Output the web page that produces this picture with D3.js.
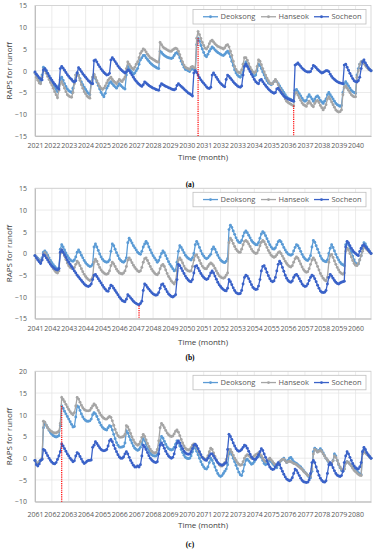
<!DOCTYPE html>
<html>
<head>
<meta charset="utf-8">
<script src="https://cdn.jsdelivr.net/npm/d3@7"></script>
<style>
  body { margin: 0; background: #fff; }
  svg { display: block; }
</style>
</head>
<body>
<svg id="chart" width="376" height="550"></svg>
<script>
// tick labels (one per January)
var yearsA = ["2021","2022","2023","2024","2025","2026","2027","2028","2029","2030",
              "2031","2032","2033","2034","2035","2036","2037","2038","2039","2040"];
var yearsB = ["2041","2042","2043","2044","2045","2046","2047","2048","2049","2050",
              "2051","2052","2053","2054","2055","2056","2057","2058","2059","2060"];
var yearsC = ["2061","2062","2063","2064","2065","2066","2067","2068","2069","2070",
              "2071","2072","2073","2074","2075","2076","2077","2078","2079","2080"];

var seriesNames = ["Deoksong", "Hanseok", "Socheon"];
var seriesColors = ["#5b9bd5", "#a5a5a5", "#3a62c8"];

// monthly RAPS values, one row per year
var deoksongA = [
  -0.5,-1.2,-1.8,-2.3,-2.5,-1.0,0.8,0.5,0.0,-0.6,-1.2,-1.8,
  -2.5,-3.2,-3.8,-4.3,-4.8,-3.5,-2.0,-1.5,-2.2,-3.0,-3.6,-4.2,
  -4.6,-4.8,-5.0,-4.0,-2.5,-1.0,-0.5,-1.0,-1.8,-2.6,-3.2,-3.8,
  -4.3,-4.8,-5.2,-5.5,-2.5,-1.5,-1.0,-1.8,-2.6,-3.4,-4.2,-5.0,
  -5.5,-6.0,-5.2,-4.0,-3.5,-2.8,-2.5,-3.0,-3.4,-3.7,-4.0,-3.5,
  -3.0,-3.4,-3.7,-4.0,-4.2,-1.0,1.0,0.5,0.0,-0.4,-0.8,-0.5,
  0.0,0.5,1.5,2.5,3.0,3.5,3.5,3.0,2.6,2.2,1.8,1.5,
  1.2,1.0,0.8,0.6,0.5,4.5,4.2,3.8,3.5,3.3,3.1,3.0,
  2.9,2.8,3.0,3.5,4.0,4.2,3.8,3.0,2.2,1.5,0.8,0.3,
  0.2,0.0,-0.2,0.3,0.5,0.2,0.0,6.0,7.5,6.8,5.8,5.0,
  4.2,3.5,3.2,3.8,4.5,5.0,5.5,5.2,4.8,4.5,4.2,4.0,
  3.8,3.6,3.5,3.8,4.2,4.5,4.0,3.2,2.2,1.2,0.2,-0.5,
  -1.0,-1.3,-1.5,-1.0,0.0,1.5,2.0,1.5,0.8,0.2,-0.4,-1.0,
  -1.2,-1.0,0.0,1.5,1.2,0.5,-0.3,-1.0,-1.7,-2.3,-2.8,-3.0,
  -3.2,-3.0,-2.5,-2.2,-2.5,-3.0,-3.5,-4.0,-4.5,-5.0,-5.5,-6.0,
  -6.3,-6.5,-6.6,-6.8,-7.0,-4.5,-4.3,-4.8,-5.3,-5.8,-6.3,-6.8,
  -7.0,-6.8,-6.0,-5.5,-6.0,-6.5,-7.0,-6.5,-6.0,-5.8,-6.2,-6.8,
  -7.2,-7.5,-7.0,-6.5,-5.5,-5.0,-5.5,-6.0,-6.5,-7.0,-7.5,-7.8,
  -8.0,-8.2,-8.0,-5.0,-3.0,-2.5,-3.0,-3.5,-4.0,-4.5,-4.8,-5.0,
  -5.2,-1.0,0.5,1.5,2.0,2.2,1.8,1.5,1.0,0.6,0.3,0.0
];
var hanseokA = [
  -0.5,-1.5,-2.2,-2.8,-3.0,-1.5,0.3,0.0,-0.6,-1.3,-2.0,-2.7,
  -3.3,-4.0,-4.8,-5.5,-6.2,-4.5,-3.0,-2.5,-3.2,-4.0,-4.8,-5.5,
  -5.8,-6.0,-6.1,-5.0,-3.0,-1.0,-0.5,-1.2,-2.2,-3.2,-4.0,-4.8,
  -5.3,-5.8,-6.1,-6.3,-3.0,-1.5,-0.8,-1.5,-2.3,-3.0,-3.6,-4.0,
  -4.3,-4.0,-3.5,-2.8,-2.2,-1.8,-1.5,-2.0,-2.4,-2.7,-3.0,-2.5,
  -2.0,-2.3,-2.5,-2.0,-1.5,0.5,2.0,1.5,1.0,0.6,0.3,0.8,
  1.5,2.0,3.0,4.0,4.5,5.0,4.8,4.3,3.8,3.4,3.0,2.8,
  2.6,2.4,2.2,2.0,2.0,6.5,6.0,5.5,5.2,5.0,4.8,4.6,
  4.5,4.5,4.8,5.0,5.2,5.0,4.5,3.7,2.8,2.0,1.3,0.8,
  0.6,0.5,0.3,0.8,1.0,0.7,0.5,7.5,9.0,8.3,7.4,6.5,
  5.8,5.2,5.0,5.5,6.2,6.8,7.0,6.6,6.2,5.9,5.6,5.5,
  5.3,5.2,5.0,5.3,5.8,6.0,5.5,4.5,3.5,2.2,1.0,0.3,
  -0.2,-0.4,-0.5,0.2,1.5,3.0,3.0,2.4,1.6,0.8,0.2,-0.3,
  -0.5,-0.2,1.0,2.5,2.2,1.4,0.5,-0.3,-1.0,-1.7,-2.3,-2.8,
  -3.0,-3.0,-2.5,-2.0,-2.5,-3.2,-4.0,-4.6,-5.2,-5.8,-6.5,-7.0,
  -7.3,-7.5,-7.7,-7.9,-8.1,-5.2,-5.0,-5.6,-6.2,-6.8,-7.4,-7.8,
  -8.0,-8.2,-7.5,-7.0,-7.5,-8.0,-8.3,-7.5,-7.0,-6.8,-7.3,-8.0,
  -8.5,-9.0,-8.5,-7.8,-6.5,-6.0,-6.5,-7.2,-7.8,-8.4,-9.0,-9.3,
  -9.5,-9.4,-9.0,-5.5,-3.8,-3.5,-4.0,-4.5,-5.0,-5.5,-5.8,-6.0,
  -6.0,-1.5,0.0,1.5,2.0,2.2,1.6,1.2,0.8,0.4,0.2,0.0
];
var socheonA = [
  -0.3,-0.8,-1.2,-1.6,-1.9,-2.1,0.2,0.5,0.0,-0.6,-1.2,-1.7,
  -2.2,-2.7,-3.1,-3.5,-3.9,-4.2,0.5,1.0,0.6,0.1,-0.4,-0.9,
  -1.3,-1.7,-2.0,-2.4,-2.6,-2.3,-0.5,0.7,0.3,-0.2,-0.7,-1.1,
  -1.5,-1.9,-2.3,-2.6,-2.9,-3.0,2.3,2.5,2.0,1.4,0.9,0.4,
  0.0,-0.4,-0.7,-1.0,-0.9,-0.6,2.5,3.0,2.6,2.1,1.6,1.1,
  0.7,0.3,0.0,-0.3,-0.5,-0.3,0.2,0.0,-0.5,-1.0,-1.5,-2.0,
  -2.4,-2.8,-3.1,-3.4,-3.6,-3.2,-2.6,-2.8,-3.1,-3.4,-3.6,-3.8,
  -4.0,-4.1,-4.3,-4.4,-4.5,-3.5,-3.0,-3.2,-3.4,-3.6,-3.7,-3.9,
  -4.0,-4.2,-4.3,-4.4,-4.2,-3.4,-3.0,-3.3,-3.6,-3.9,-4.2,-4.5,
  -4.8,-5.1,-5.3,-5.5,-5.8,-0.5,0.0,-0.4,-1.0,-1.6,-2.1,-2.5,
  -2.9,-3.3,-3.7,-4.0,-4.1,-3.8,-1.0,-0.5,-1.0,-1.5,-2.0,-2.5,
  -2.9,-3.2,-3.5,-3.7,-2.0,-1.0,-1.3,-1.7,-2.1,-2.5,-2.9,-3.2,
  -3.5,-3.7,-3.8,-3.5,-1.0,1.0,1.5,1.0,0.4,-0.2,-0.8,-1.4,
  -2.0,-2.5,-2.8,-3.0,-2.2,-2.0,-2.5,-3.0,-3.4,-3.8,-4.2,-4.5,
  -4.8,-5.0,-5.2,-5.0,-4.2,-4.0,-4.5,-5.0,-5.4,-5.8,-6.1,-6.3,
  -6.5,-6.6,-6.8,-6.9,-7.0,1.3,1.5,1.8,1.4,1.0,0.6,0.3,
  0.0,-0.2,-0.3,-0.3,-0.2,0.5,1.2,1.0,0.7,0.3,0.0,-0.3,
  -0.5,-0.4,-0.2,0.0,0.0,-0.2,-0.8,-1.3,-1.7,-2.0,-2.3,-2.5,
  -2.7,-2.8,-2.9,-3.0,1.3,1.5,0.8,0.1,-0.6,-1.2,-1.8,-2.3,
  -2.5,-2.6,-2.3,-1.5,0.5,2.0,2.5,1.8,1.2,0.7,0.3,0.0
];

var deoksongB = [
  -0.5,-0.8,-1.1,-1.4,-1.6,-1.0,0.3,0.6,0.2,-0.4,-1.0,-1.6,
  -2.1,-2.6,-3.0,-3.3,-3.6,-3.4,1.0,2.0,1.5,0.8,0.1,-0.5,
  -1.0,-1.4,-1.7,-1.8,-1.5,-0.8,0.3,0.8,0.3,-0.4,-1.0,-1.6,
  -2.1,-2.5,-2.8,-3.0,-2.9,-2.5,1.5,2.2,1.5,0.7,-0.1,-0.8,
  -1.3,-1.7,-1.9,-2.0,-1.9,-1.5,0.5,2.2,1.8,1.0,0.2,-0.5,
  -1.2,-1.6,-1.9,-2.0,-1.7,-1.0,2.5,3.5,3.0,2.4,1.8,1.3,
  0.8,0.3,0.0,-0.2,0.5,1.5,2.2,2.8,2.3,1.5,0.8,0.1,
  -0.5,-1.0,-1.5,-2.0,-1.6,-0.8,0.0,0.6,0.2,-0.5,-1.2,-1.9,
  -2.5,-3.0,-3.5,-4.0,-3.8,-2.0,0.5,1.8,1.4,0.8,0.2,-0.4,
  -0.8,-1.1,-1.3,-1.5,-1.0,0.0,2.0,2.8,2.2,1.4,0.6,-0.1,
  -0.6,-1.0,-1.2,-1.0,-0.6,-0.2,1.0,1.5,1.0,0.3,-0.4,-1.0,
  -1.5,-1.8,-2.0,-2.1,-1.8,-1.2,5.5,6.5,6.0,5.2,4.4,3.6,
  3.0,2.6,2.5,3.0,4.0,4.8,5.2,4.8,4.2,3.6,3.0,2.6,
  2.3,2.0,2.0,2.5,3.5,4.5,5.0,4.7,4.1,3.4,2.7,2.0,
  1.5,1.1,1.0,1.3,2.0,2.7,3.0,2.7,2.1,1.4,0.8,0.3,
  -0.1,-0.3,-0.4,-0.2,0.6,1.4,2.0,1.8,1.2,0.5,-0.2,-0.8,
  -1.2,-1.5,-1.6,-1.2,-0.5,1.5,3.0,2.6,1.8,1.0,0.2,-0.6,
  -1.2,-1.6,-1.8,-1.9,-1.5,0.0,1.2,2.0,1.4,0.6,-0.2,-0.9,
  -1.5,-2.0,-2.4,-2.6,-2.8,2.0,2.5,2.0,1.2,0.3,-0.6,-1.5,
  -2.2,-2.5,-2.4,-1.5,-0.5,1.0,2.5,2.2,1.5,1.0,0.5,0.0
];
var hanseokB = [
  -0.5,-0.9,-1.3,-1.7,-2.0,-1.5,-0.2,0.2,-0.3,-1.0,-1.7,-2.4,
  -3.0,-3.5,-3.9,-4.3,-4.5,-4.0,0.0,0.8,0.2,-0.6,-1.4,-2.2,
  -2.8,-3.2,-3.4,-3.5,-3.2,-2.5,-1.8,-2.2,-2.8,-3.5,-4.2,-4.8,
  -5.3,-5.7,-6.0,-6.2,-6.0,-5.5,-2.0,-1.3,-1.8,-2.5,-3.2,-3.8,
  -4.2,-4.5,-4.7,-4.8,-4.6,-4.0,-2.8,-2.0,-2.4,-3.0,-3.6,-4.1,
  -4.5,-4.6,-4.7,-4.5,-4.0,-3.0,-1.5,-1.0,-1.5,-2.1,-2.7,-3.2,
  -3.6,-4.0,-4.2,-4.0,-3.2,-2.0,-1.2,-1.0,-1.6,-2.3,-3.0,-3.6,
  -4.1,-4.5,-4.8,-4.9,-4.5,-3.5,-2.8,-2.5,-3.0,-3.8,-4.6,-5.3,
  -5.8,-6.3,-6.7,-7.0,-6.5,-4.0,-1.5,-1.0,-1.5,-2.2,-2.9,-3.5,
  -3.8,-4.0,-4.1,-4.0,-3.0,-1.5,-0.5,-0.3,-0.9,-1.6,-2.3,-2.9,
  -3.3,-3.5,-3.5,-3.0,-2.5,-2.2,-2.4,-2.8,-3.4,-4.0,-4.6,-5.1,
  -5.4,-5.6,-5.7,-5.5,-5.0,-4.5,2.5,3.5,3.0,2.3,1.6,1.0,
  0.6,0.3,0.3,1.0,2.0,2.8,3.0,2.7,2.2,1.6,1.0,0.5,
  0.2,0.0,0.1,0.8,1.8,2.6,3.0,2.7,2.1,1.4,0.7,0.1,
  -0.4,-0.7,-0.9,-0.7,-0.3,0.2,0.4,0.0,-0.6,-1.2,-1.8,-2.3,
  -2.7,-3.0,-3.1,-2.8,-2.0,-1.2,-0.8,-1.1,-1.7,-2.4,-3.1,-3.7,
  -4.1,-4.3,-4.2,-3.5,-2.5,-1.5,-1.0,-1.5,-2.2,-3.0,-3.8,-4.6,
  -5.2,-5.7,-6.1,-6.3,-5.5,-2.0,-0.5,-0.2,-0.9,-1.7,-2.5,-3.2,
  -3.8,-4.3,-4.6,-4.8,-4.5,0.5,1.2,0.8,0.0,-0.8,-1.6,-2.3,
  -2.7,-2.8,-2.3,-1.5,-0.5,0.5,1.5,1.3,0.9,0.6,0.3,0.0
];
var socheonB = [
  -0.5,-1.0,-1.5,-1.9,-2.3,-1.5,-0.3,-0.5,-1.0,-1.5,-2.0,-2.5,
  -2.9,-3.2,-3.5,-3.7,-3.8,-3.5,0.3,0.8,0.3,-0.3,-0.9,-1.5,
  -2.0,-2.5,-3.0,-3.5,-4.0,-4.5,-5.0,-5.4,-5.8,-6.2,-6.6,-7.0,
  -7.3,-7.5,-7.6,-7.4,-7.0,-6.0,-5.0,-4.8,-5.3,-5.8,-6.3,-6.8,
  -7.3,-7.8,-8.2,-8.6,-8.7,-8.0,-7.3,-7.5,-8.0,-8.5,-9.0,-9.5,
  -10.0,-10.4,-10.8,-11.0,-11.1,-10.5,-9.5,-9.8,-10.2,-10.6,-11.0,-11.3,
  -11.5,-11.7,-11.8,-11.5,-11.0,-8.5,-7.0,-7.3,-7.8,-8.2,-8.6,-9.0,
  -9.3,-9.5,-9.6,-9.5,-9.0,-8.0,-7.2,-7.0,-7.6,-8.2,-8.8,-9.3,
  -9.6,-9.9,-10.0,-9.8,-9.5,-6.0,-2.5,-2.8,-3.4,-4.0,-4.6,-5.2,
  -5.7,-6.1,-6.4,-6.5,-6.0,-4.5,-3.0,-2.8,-3.4,-4.0,-4.6,-5.1,
  -5.5,-5.8,-6.0,-5.8,-5.2,-4.5,-4.0,-4.5,-5.2,-5.9,-6.6,-7.2,
  -7.6,-8.0,-8.3,-8.5,-8.6,-8.0,-6.0,-6.5,-7.2,-7.9,-8.5,-9.0,
  -9.2,-9.3,-9.2,-8.5,-7.0,-5.5,-5.0,-5.2,-5.8,-6.5,-7.2,-7.8,
  -8.1,-8.3,-8.2,-7.5,-6.0,-4.0,-3.0,-2.8,-3.5,-4.3,-5.1,-5.8,
  -6.3,-6.5,-6.3,-5.5,-4.0,-2.5,-1.8,-2.3,-3.2,-4.1,-5.0,-5.7,
  -6.2,-6.5,-6.6,-6.3,-5.5,-5.0,-4.8,-5.2,-5.8,-6.4,-7.0,-7.4,
  -7.6,-7.5,-7.0,-6.2,-5.5,-5.0,-5.2,-5.8,-6.5,-7.3,-8.0,-8.6,
  -8.9,-9.0,-8.9,-8.5,-7.0,-5.5,-4.8,-5.2,-5.7,-6.2,-6.6,-6.9,
  -7.0,-6.8,-6.6,-6.5,-6.4,1.5,2.8,2.4,1.8,1.2,0.7,0.3,
  0.0,-0.3,-0.5,0.5,1.2,1.8,2.0,1.6,1.2,0.8,0.4,0.0
];

var deoksongC = [
  -0.5,-1.0,-1.3,-0.8,-0.5,-0.2,7.0,8.0,7.6,7.0,6.4,5.9,
  5.5,5.2,5.0,4.9,5.0,5.2,7.5,12.0,11.5,10.8,10.2,9.6,
  9.0,8.4,7.8,7.2,7.3,9.5,12.0,11.8,11.0,10.2,9.5,9.0,
  8.7,8.5,8.5,8.6,9.0,10.0,10.5,10.2,9.6,8.9,8.2,7.6,
  7.1,6.8,6.6,6.5,7.0,7.5,7.3,6.5,5.5,4.5,3.6,3.0,
  2.6,2.5,2.6,2.7,3.5,6.3,5.8,5.0,4.2,3.5,2.8,2.3,
  2.0,1.8,2.0,2.5,3.5,4.5,4.0,3.2,2.4,1.8,1.2,0.8,
  0.6,0.5,0.5,0.8,2.0,4.0,5.0,4.6,3.9,3.2,2.6,2.2,
  2.0,1.9,2.0,2.5,3.2,4.0,3.6,2.8,2.0,1.3,0.7,0.2,
  0.0,-0.1,0.0,0.5,1.5,2.5,2.3,1.6,0.8,0.0,-0.8,-1.5,
  -2.0,-2.4,-2.5,-2.0,-1.0,0.0,-0.5,-1.2,-2.0,-2.8,-3.5,-4.0,
  -4.2,-4.0,-3.5,-3.0,-2.5,-1.5,1.0,1.5,0.8,0.0,-0.8,-1.6,
  -2.4,-3.2,-3.8,-4.0,-3.0,-1.5,-0.5,-0.2,-0.6,-1.0,-1.4,-1.2,
  -0.8,-0.3,0.2,0.5,0.5,0.2,-0.5,-1.2,-1.5,-1.2,-0.8,-0.5,
  -0.8,-1.2,-1.6,-2.0,-2.2,-1.5,-1.0,-0.6,-0.3,0.0,-0.5,-1.0,
  -0.5,0.0,0.2,-0.3,-0.8,-1.0,-1.2,-1.5,-1.8,-2.0,-2.4,-2.8,
  -3.2,-3.6,-4.0,-4.4,-4.5,-3.0,1.5,2.3,2.0,1.5,1.8,2.2,
  1.8,1.2,0.6,0.0,-0.5,-1.0,-1.5,-1.5,-0.5,1.0,0.5,-0.5,
  -1.5,-2.2,-2.8,-3.0,-2.5,-1.0,-0.8,-1.0,-1.3,-1.6,-2.0,-2.5,
  -2.8,-3.0,-3.3,-3.6,-3.8,1.5,2.0,1.6,1.1,0.7,0.3,0.0
];
var hanseokC = [
  -0.5,-1.0,-1.3,-0.8,-0.5,0.0,8.5,8.3,7.6,7.0,6.6,6.3,
  6.1,5.9,5.8,5.8,6.0,6.2,8.0,14.0,13.5,13.0,12.4,11.8,
  11.2,10.7,10.3,10.0,10.5,12.0,14.0,13.6,12.9,12.2,11.6,11.2,
  11.0,10.9,10.9,11.0,11.5,12.0,12.5,12.2,11.6,11.0,10.4,9.9,
  9.5,9.2,9.0,9.0,9.3,9.6,9.4,8.6,7.6,6.6,5.8,5.2,
  4.9,4.8,4.9,5.0,5.5,7.5,7.2,6.5,5.7,4.9,4.2,3.6,
  3.2,3.0,3.2,3.8,4.8,5.5,5.0,4.2,3.4,2.7,2.1,1.6,
  1.3,1.2,1.3,2.0,4.0,7.0,8.0,7.6,7.0,6.4,5.8,5.4,
  5.1,5.0,5.1,5.6,6.2,6.5,6.0,5.2,4.3,3.5,2.8,2.3,
  2.0,1.9,2.0,2.4,3.0,3.3,3.0,2.5,1.8,1.2,0.6,0.2,
  0.0,-0.2,-0.2,0.5,1.5,2.3,2.0,1.2,0.4,-0.4,-1.0,-1.5,
  -1.8,-1.8,-1.5,-1.0,-0.3,0.5,2.0,2.0,1.4,0.7,0.0,-0.5,
  -1.0,-1.4,-1.6,-1.5,-0.8,0.0,0.5,0.8,0.6,0.3,0.0,0.2,
  0.5,0.8,1.0,1.2,1.0,0.6,0.0,-0.5,-0.8,-0.6,-0.3,0.0,
  -0.4,-0.8,-1.2,-1.5,-1.6,-1.2,-0.8,-0.5,-0.3,-0.2,-0.6,-1.0,
  -0.8,-0.7,-0.8,-1.0,-1.2,-1.3,-1.5,-1.8,-2.0,-2.3,-2.6,-3.0,
  -3.3,-3.6,-3.9,-4.1,-4.2,-2.5,1.0,2.0,1.8,1.4,1.6,1.8,
  1.5,1.0,0.5,0.0,-0.4,-0.8,-1.2,-1.3,-0.6,0.5,0.2,-0.5,
  -1.3,-2.0,-2.5,-2.8,-2.5,-1.2,-0.8,-1.0,-1.4,-1.8,-2.3,-2.8,
  -3.1,-3.4,-3.7,-3.9,-4.0,1.0,1.5,1.2,0.9,0.6,0.3,0.0
];
var socheonC = [
  -0.5,-1.5,-1.8,-1.3,-0.5,-0.3,2.0,1.8,1.2,0.6,0.0,-0.5,
  -0.9,-1.2,-1.3,-1.0,-0.3,0.5,1.5,3.3,2.8,2.2,1.6,1.0,
  0.5,0.0,-0.4,-0.8,-0.6,0.5,1.3,1.0,0.4,-0.2,-0.8,-1.2,
  -1.0,-0.7,-0.5,-0.5,-0.4,2.5,3.0,3.8,3.4,2.9,2.4,2.0,
  1.8,1.7,1.8,2.0,2.8,4.0,4.3,3.8,3.0,2.2,1.5,0.8,
  0.3,0.0,0.0,0.3,1.0,1.5,1.0,0.2,-0.5,-1.1,-1.6,-2.0,
  -2.0,-1.8,-2.0,-1.5,0.5,3.0,2.6,2.0,1.3,0.6,0.0,-0.4,
  -0.7,-0.9,-1.0,-0.8,1.0,3.0,3.5,3.0,2.3,1.6,1.0,0.5,
  0.2,0.0,0.2,1.0,2.5,3.5,4.0,3.5,2.8,2.2,1.6,1.2,
  1.0,0.9,1.0,1.5,2.2,3.0,3.2,2.8,2.2,1.5,0.8,0.2,
  -0.2,-0.4,-0.5,0.0,0.5,1.0,1.0,0.5,0.0,-0.5,-1.0,-1.3,
  -1.5,-1.6,-1.5,-1.2,-1.0,2.0,5.5,5.0,4.3,3.5,2.8,2.2,
  1.8,1.6,1.7,2.0,2.5,3.0,2.8,2.3,1.6,0.9,0.3,-0.1,
  -0.3,-0.2,0.2,0.8,1.5,2.2,1.8,1.0,0.2,-0.6,-1.4,-2.0,
  -2.4,-2.6,-2.5,-2.0,-1.5,-1.0,-1.5,-2.3,-3.0,-3.7,-4.3,-4.8,
  -5.0,-5.2,-5.0,-4.5,-3.5,-2.5,-2.8,-3.4,-4.0,-4.6,-5.1,-5.4,
  -5.5,-5.6,-5.5,-5.0,-3.5,-1.0,-0.5,-1.0,-2.0,-3.0,-3.9,-4.6,
  -5.1,-5.4,-5.5,-5.2,-3.5,-1.5,-1.0,-1.5,-2.2,-2.9,-3.5,-3.9,
  -4.1,-4.2,-4.0,-3.0,-1.0,0.5,1.5,1.0,0.2,-0.5,-1.2,-1.8,
  -2.2,-2.4,-2.5,-2.0,-1.0,1.5,2.5,2.0,1.3,0.8,0.4,0.0
];

// red dotted markers: month index and RAPS value at the top of the line
var peaksA = [{ month: 116, value: 7.5 }, { month: 184, value: -8.0 }];
var peaksB = [{ month: 74, value: -12.0 }];
var peaksC = [{ month: 19, value: 12.0 }];

var plotLeft = 35, plotRight = 371;
var fontSans = "'Open Sans', 'Noto Sans', sans-serif";
var svg = d3.select("#chart");

var panels = [
  { years: yearsA, series: [deoksongA, hanseokA, socheonA], domain: [-15, 15],
    top: 5.5, bottom: 136, tickPad: 7, titleY: 160, tag: "(a)", tagY: 186.5, peaks: peaksA },
  { years: yearsB, series: [deoksongB, hanseokB, socheonB], domain: [-15, 15],
    top: 188.3, bottom: 318.7, tickPad: 7.5, titleY: 345, tag: "(b)", tagY: 359.5, peaks: peaksB },
  { years: yearsC, series: [deoksongC, hanseokC, socheonC], domain: [-10, 20],
    top: 371.3, bottom: 501.7, tickPad: 10.5, titleY: 528, tag: "(c)", tagY: 546.5, peaks: peaksC }
];

panels.forEach(drawPanel);

function drawPanel(p) {
  var g = svg.append("g");
  var n = p.years.length * 12;
  var x = d3.scaleLinear().domain([0, n - 1]).range([plotLeft, plotRight]);
  var y = d3.scaleLinear().domain(p.domain).range([p.bottom, p.top]);
  var yTicks = d3.range(p.domain[0], p.domain[1] + 1, 5);
  var xTicks = p.years.map(function (d, i) { return i * 12; });

  // grid
  g.append("g").selectAll("line").data(yTicks).join("line")
    .attr("x1", plotLeft).attr("x2", plotRight)
    .attr("y1", function (d) { return y(d); }).attr("y2", function (d) { return y(d); })
    .attr("stroke", "#e2e2e2").attr("stroke-width", 0.7);
  g.append("g").selectAll("line").data(xTicks).join("line")
    .attr("x1", function (d) { return x(d); }).attr("x2", function (d) { return x(d); })
    .attr("y1", p.top).attr("y2", p.bottom)
    .attr("stroke", "#e2e2e2").attr("stroke-width", 0.7);
  g.append("rect")
    .attr("x", plotLeft).attr("y", p.top)
    .attr("width", plotRight - plotLeft).attr("height", p.bottom - p.top)
    .attr("fill", "none").attr("stroke", "#cfcfcf").attr("stroke-width", 0.8);

  // axes
  var yAxis = g.append("g").attr("transform", "translate(" + plotLeft + ",0)")
    .call(d3.axisLeft(y).tickValues(yTicks).tickSize(0).tickPadding(8));
  yAxis.attr("font-family", fontSans).attr("font-size", 7).attr("color", "#595959");
  yAxis.select(".domain").attr("stroke", "#bfbfbf");

  var xAxis = g.append("g").attr("transform", "translate(0," + p.bottom + ")")
    .call(d3.axisBottom(x).tickValues(xTicks).tickSize(0).tickPadding(p.tickPad)
      .tickFormat(function (d) { return p.years[d / 12]; }));
  xAxis.attr("font-family", fontSans).attr("font-size", 7).attr("color", "#595959");
  xAxis.select(".domain").attr("stroke", "#bfbfbf");

  // series
  var line = d3.line()
    .x(function (d, i) { return x(i); })
    .y(function (d) { return y(d); });
  p.series.forEach(function (values, k) {
    var s = g.append("g");
    s.append("path").datum(values)
      .attr("d", line).attr("fill", "none")
      .attr("stroke", seriesColors[k]).attr("stroke-width", 1.3);
    s.selectAll("circle").data(values).join("circle")
      .attr("cx", function (d, i) { return x(i); })
      .attr("cy", function (d) { return y(d); })
      .attr("r", 1.45).attr("fill", seriesColors[k]);
  });

  // red dotted markers
  g.append("g").selectAll("line").data(p.peaks).join("line")
    .attr("x1", function (d) { return x(d.month); }).attr("x2", function (d) { return x(d.month); })
    .attr("y1", function (d) { return y(d.value); }).attr("y2", p.bottom)
    .attr("stroke", "#ff0000").attr("stroke-width", 1.2).attr("stroke-dasharray", "1.2,1");

  // legend
  var lg = g.append("g").attr("transform", "translate(193," + (p.top + 4) + ")");
  lg.append("rect").attr("width", 173).attr("height", 14.5)
    .attr("fill", "#fff").attr("stroke", "#bfbfbf").attr("stroke-width", 0.8);
  var itemX = [10, 68, 121];
  seriesNames.forEach(function (name, k) {
    var it = lg.append("g").attr("transform", "translate(" + itemX[k] + ",7.25)");
    it.append("line").attr("x1", 0).attr("x2", 15)
      .attr("stroke", seriesColors[k]).attr("stroke-width", 1.3);
    it.append("circle").attr("cx", 7.5).attr("r", 1.4).attr("fill", seriesColors[k]);
    it.append("text").attr("x", 17.5).attr("dy", "0.35em")
      .attr("font-family", fontSans).attr("font-size", 7.5).attr("fill", "#595959")
      .text(name);
  });

  // titles
  g.append("text")
    .attr("transform", "translate(12," + (p.top + p.bottom) / 2 + ") rotate(-90)")
    .attr("text-anchor", "middle")
    .attr("font-family", fontSans).attr("font-size", 8).attr("fill", "#404040")
    .text("RAPS for runoff");
  g.append("text")
    .attr("x", (plotLeft + plotRight) / 2).attr("y", p.titleY)
    .attr("text-anchor", "middle")
    .attr("font-family", fontSans).attr("font-size", 8).attr("fill", "#404040")
    .text("Time (month)");
  g.append("text")
    .attr("x", 190).attr("y", p.tagY)
    .attr("text-anchor", "middle")
    .attr("font-family", "'Liberation Serif', 'DejaVu Serif', serif").attr("font-size", 7.5)
    .attr("font-weight", "bold").attr("fill", "#000")
    .text(p.tag);
}
</script>
</body>
</html>
